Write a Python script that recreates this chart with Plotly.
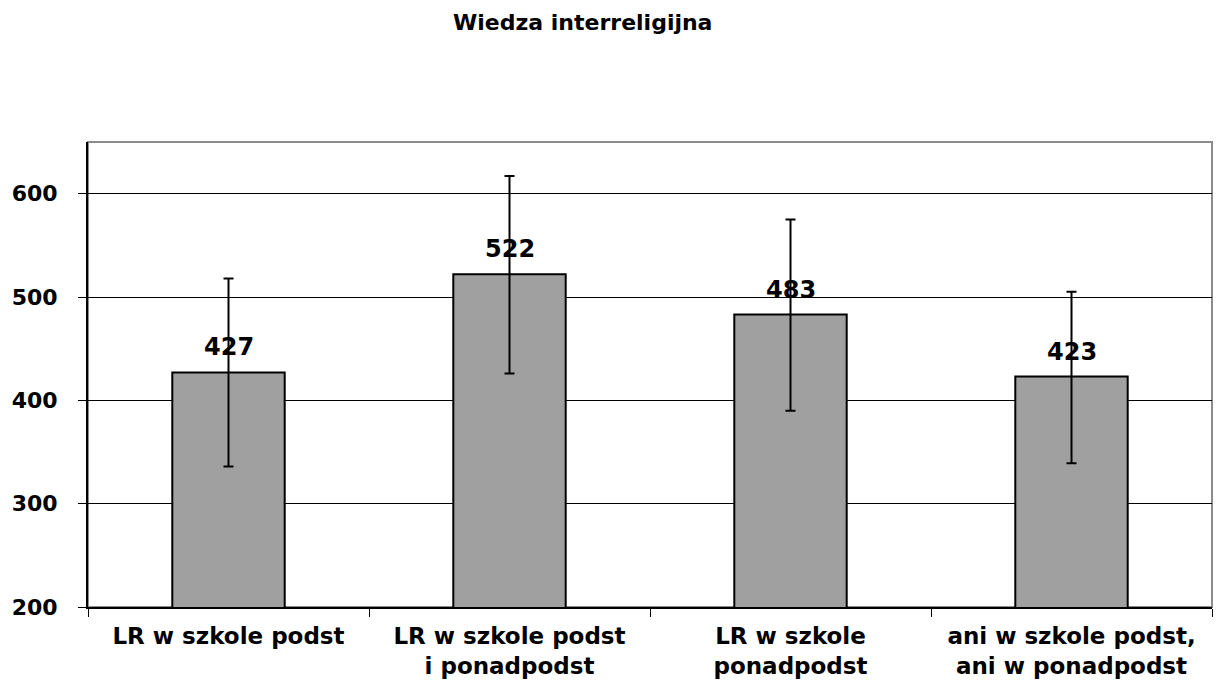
import plotly.graph_objects as go

categories = ["LR w szkole podst", "LR w szkole podst<br>i ponadpodst",
              "LR w szkole<br>ponadpodst", "ani w szkole podst,<br>ani w ponadpodst"]
values = [427, 522, 483, 423]
err_plus = [91, 95, 92, 82]
err_minus = [91, 96, 93, 84]
value_labels = ["427", "522", "483", "423"]
y_ticks = [200, 300, 400, 500, 600]

FONT = "DejaVu Sans"

# page body has an 8px margin, so the figure is offset by (8, 8)
W, H = 1215, 678
ML, MR, MT, MB = 80, 11, 134, 79
plot_w = W - ML - MR
plot_h = H - MT - MB

fig = go.Figure()
fig.add_trace(go.Bar(
    x=categories, y=values, width=0.4,
    marker=dict(color="#a0a0a0", line=dict(color="black", width=2)),
    error_y=dict(type="data", symmetric=False, array=err_plus, arrayminus=err_minus,
                 color="black", thickness=2, width=5),
    hoverinfo="skip",
))

for c, v, t in zip(categories, values, value_labels):
    fig.add_annotation(x=c, y=v, text=t, showarrow=False,
                       yanchor="bottom", yshift=9,
                       font=dict(family=FONT, size=24, color="black", weight="bold"))

fig.add_annotation(x=(582 - 8 - ML) / plot_w, y=(H - MB - (22 - 8)) / plot_h,
                   xref="paper", yref="paper", xanchor="center", yanchor="middle",
                   text="Wiedza interreligijna", showarrow=False,
                   font=dict(family=FONT, size=22, color="black", weight="bold"))

fig.update_layout(
    width=W, height=H,
    margin=dict(l=ML, r=MR, t=MT, b=MB),
    paper_bgcolor="white", plot_bgcolor="white",
    showlegend=False,
    shapes=[dict(type="rect", xref="paper", yref="paper", x0=0, x1=1, y0=0, y1=1,
                 line=dict(color="#8c8c8c", width=2), layer="below")],
)

fig.update_xaxes(
    automargin=False,
    showline=True, linecolor="black", linewidth=2,
    ticks="outside", tickson="boundaries", ticklen=8, tickcolor="black", tickwidth=1,
    ticklabelstandoff=7,
    tickfont=dict(family=FONT, size=23, color="black", weight="bold"),
    showgrid=False,
)
fig.update_yaxes(
    automargin=False,
    range=[200, 650], tickvals=y_ticks,
    showline=True, linecolor="black", linewidth=2,
    ticks="outside", ticklen=8, tickcolor="black", tickwidth=1,
    ticklabelstandoff=16,
    tickfont=dict(family=FONT, size=22, color="black", weight="bold"),
    showgrid=True, gridcolor="black", gridwidth=1,
    zeroline=False,
)

fig.write_html("out.html")
